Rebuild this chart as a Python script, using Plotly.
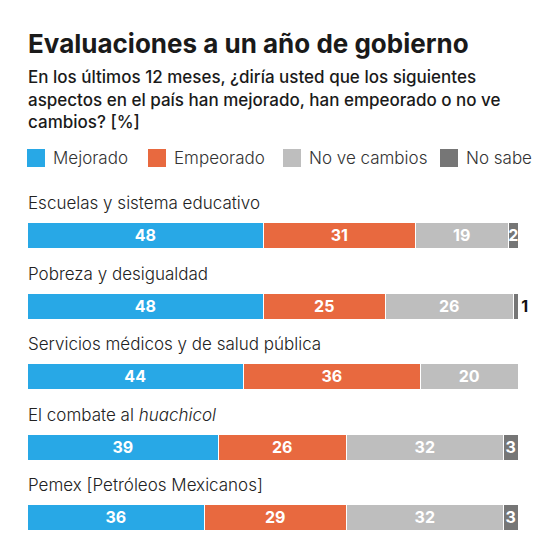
import plotly.graph_objects as go

categories = [
    "Escuelas y sistema educativo",
    "Pobreza y desigualdad",
    "Servicios médicos y de salud pública",
    "El combate al <i>huachicol</i>",
    "Pemex [Petróleos Mexicanos]",
]
series_names = ["Mejorado", "Empeorado", "No ve cambios", "No sabe"]
mejorado = [48, 48, 44, 39, 36]
empeorado = [31, 25, 36, 26, 29]
no_ve_cambios = [19, 26, 20, 32, 32]
no_sabe = [2, 1, 0, 3, 3]

colors = ["#28A8E6", "#E8693F", "#BEBEBE", "#767676"]
series_values = [mejorado, empeorado, no_ve_cambios, no_sabe]

FONT = "Inter"
OFF = 8  # page body margin in the browser
W, H = 554 - OFF, 545 - OFF
ypos = list(range(len(categories)))

fig = go.Figure()
for name, vals, col in zip(series_names, series_values, colors):
    texts = [str(v) if v > 0 else "" for v in vals]
    if name == "No sabe":
        positions = ["outside" if v == 1 else "inside" for v in vals]
    else:
        positions = ["inside"] * len(vals)
    fig.add_trace(go.Bar(
        name=name,
        y=ypos,
        x=vals,
        orientation="h",
        width=0.37,
        marker=dict(color=col, line=dict(color="white", width=1.5)),
        text=texts,
        textposition=positions,
        insidetextanchor="middle",
        insidetextfont=dict(family=FONT, size=16, color="white", weight="bold"),
        outsidetextfont=dict(family=FONT, size=16, color="#111111", weight="bold"),
        cliponaxis=False,
        showlegend=False,
        hoverinfo="skip",
    ))

# plot area in reference pixel coordinates
plot_l, plot_r, plot_t, plot_b = 28, 519, 180, 535

def px_x(x):
    return (x - plot_l) / (plot_r - plot_l)

def px_y(y):
    return (plot_b - y) / (plot_b - plot_t)

annotations = []
for i, cat in enumerate(categories):
    annotations.append(dict(
        x=0, y=i, xref="x", yref="y", text=cat, showarrow=False,
        xanchor="left", yanchor="middle", yshift=33, xshift=-2,
        font=dict(family=FONT, size=17, color="#222222", weight=300),
    ))

annotations.append(dict(
    x=px_x(26), y=px_y(43), xref="paper", yref="paper",
    text="<b>Evaluaciones a un año de gobierno</b>", showarrow=False,
    xanchor="left", yanchor="middle",
    font=dict(family=FONT, size=26, color="#1a1a1a"),
))
subtitle_lines = [
    "En los últimos 12 meses, ¿diría usted que los siguientes",
    "aspectos en el país han mejorado, han empeorado o no ve",
    "cambios? [%]",
]
for k, line in enumerate(subtitle_lines):
    annotations.append(dict(
        x=px_x(26), y=px_y(77 + 22.5 * k), xref="paper", yref="paper",
        text=line, showarrow=False, xanchor="left", yanchor="middle",
        font=dict(family=FONT, size=17, color="#1a1a1a", weight=500),
    ))

legend_x = [27, 148, 283, 440]
shapes = []
for name, col, lx in zip(series_names, colors, legend_x):
    shapes.append(dict(
        type="rect", xref="paper", yref="paper",
        x0=px_x(lx), x1=px_x(lx + 18), y0=px_y(167), y1=px_y(149),
        fillcolor=col, line=dict(width=0),
    ))
    annotations.append(dict(
        x=px_x(lx + 24), y=px_y(158), xref="paper", yref="paper",
        text=name, showarrow=False, xanchor="left", yanchor="middle",
        font=dict(family=FONT, size=17, color="#333333", weight=300),
    ))

fig.update_layout(
    width=W, height=H,
    margin=dict(l=plot_l - OFF, r=554 - plot_r, t=plot_t - OFF, b=545 - plot_b),
    paper_bgcolor="white", plot_bgcolor="white",
    barmode="stack",
    bargap=0,
    uniformtext=dict(minsize=16, mode="show"),
    xaxis=dict(range=[0, 100], visible=False, fixedrange=True),
    yaxis=dict(range=[4.235, -0.793], visible=False, fixedrange=True),
    showlegend=False,
    annotations=annotations,
    shapes=shapes,
)
fig.write_html("out.html")
